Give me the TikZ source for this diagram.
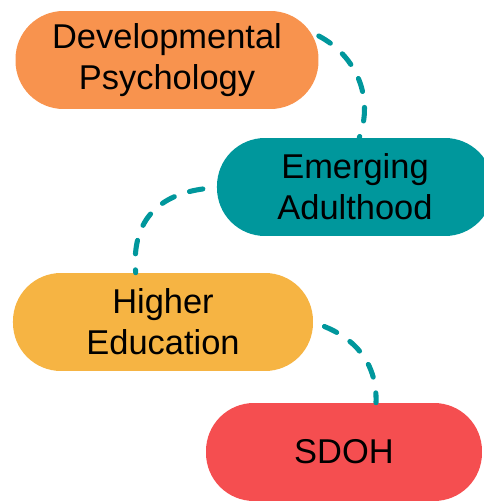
\documentclass[tikz,border=0pt]{standalone}
\usepackage{fontspec}
\setmainfont{Liberation Sans}
\usepackage{tikz}
\usetikzlibrary{shapes,arrows,positioning}

\definecolor{devorange}{RGB}{248,147,78}
\definecolor{emteal}{RGB}{0,151,156}
\definecolor{heyellow}{RGB}{246,180,67}
\definecolor{sdohred}{RGB}{245,78,80}

\begin{document}
\begin{tikzpicture}[
  pill/.style={rectangle, rounded corners=1.2cm, minimum height=2.45cm, align=center, font=\fontsize{24.5}{29.2}\selectfont},
  link/.style={emteal, line width=3.6pt, dash pattern=on 9.7pt off 11.4pt, line cap=round}]
\clip (0,0) rectangle (12.1,12.6);

\node (devpsy) at (4.175, 11.1) [pill, fill=devorange, minimum width=7.575cm] {Developmental\\Psychology};
\node (emerg) at (8.875, 7.925) [pill, fill=emteal, minimum width=6.9cm] {Emerging\\Adulthood};

\node (higher) at (4.075, 4.55) [pill, fill=heyellow, minimum width=7.5cm] {Higher\\Education};
\node (sdoh) at (8.6, 1.3) [pill, fill=sdohred, minimum width=6.9cm] {SDOH};

\draw[link] (devpsy.9) to [out=-28, in=70] (emerg.85);
\draw[link, shorten <=0.35cm] (emerg.west) to [out=188, in=95, looseness=1.2] (higher.119);
\draw[link, shorten <=0.3cm] (higher.east) to [out=-22, in=88, looseness=1.05] (sdoh.57);
\end{tikzpicture}
\end{document}
